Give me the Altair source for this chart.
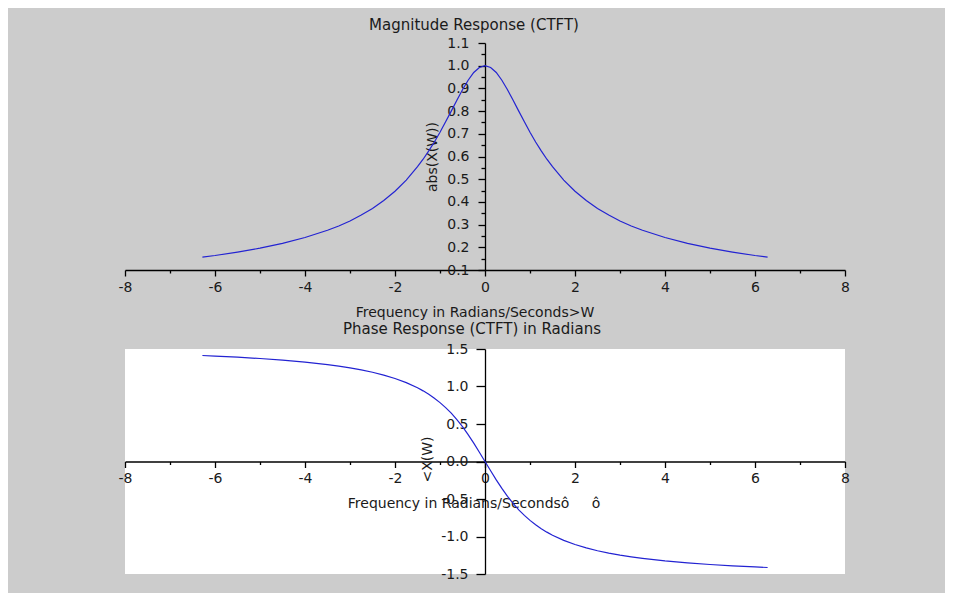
import altair as alt
import pandas as pd

# ---- data ----
W = [-6.28, -6.0, -5.5, -5.0, -4.5, -4.0, -3.5, -3.25, -3.0, -2.75, -2.5, -2.25,
     -2.0, -1.75, -1.5, -1.375, -1.25, -1.125, -1.0, -0.875, -0.75, -0.625,
     -0.5, -0.375, -0.25, -0.125, 0.0, 0.125, 0.25, 0.375, 0.5, 0.625, 0.75,
     0.875, 1.0, 1.125, 1.25, 1.375, 1.5, 1.75, 2.0, 2.25, 2.5, 2.75, 3.0,
     3.25, 3.5, 4.0, 4.5, 5.0, 5.5, 6.0, 6.28]
MAG = [0.157, 0.164, 0.179, 0.196, 0.217, 0.243, 0.275, 0.294, 0.316, 0.342,
       0.371, 0.406, 0.447, 0.496, 0.555, 0.588, 0.625, 0.664, 0.707, 0.753,
       0.800, 0.848, 0.894, 0.936, 0.970, 0.992, 1.000, 0.992, 0.970, 0.936,
       0.894, 0.848, 0.800, 0.753, 0.707, 0.664, 0.625, 0.588, 0.555, 0.496,
       0.447, 0.406, 0.371, 0.342, 0.316, 0.294, 0.275, 0.243, 0.217, 0.196,
       0.179, 0.164, 0.157]
PHASE = [1.413, 1.406, 1.391, 1.373, 1.352, 1.326, 1.292, 1.272, 1.249, 1.222,
         1.190, 1.152, 1.107, 1.052, 0.983, 0.942, 0.896, 0.844, 0.785, 0.719,
         0.644, 0.559, 0.464, 0.359, 0.245, 0.124, 0.000, -0.124, -0.245,
         -0.359, -0.464, -0.559, -0.644, -0.719, -0.785, -0.844, -0.896,
         -0.942, -0.983, -1.052, -1.107, -1.152, -1.190, -1.222, -1.249,
         -1.272, -1.292, -1.326, -1.352, -1.373, -1.391, -1.406, -1.413]

X_TICKS = [-8, -7, -6, -5, -4, -3, -2, -1, 0, 1, 2, 3, 4, 5, 6, 7, 8]
Y1_TICKS = [0.1, 0.15, 0.2, 0.25, 0.3, 0.35, 0.4, 0.45, 0.5, 0.55, 0.6, 0.65,
            0.7, 0.75, 0.8, 0.85, 0.9, 0.95, 1.0, 1.05, 1.1]
Y2_TICKS = [-1.5, -1.0, -0.5, 0.0, 0.5, 1.0, 1.5]

TITLE_TOP = "Magnitude Response (CTFT)"
TITLE_BOTTOM = "Phase Response (CTFT) in Radians"
XTITLE_TOP = "Frequency in Radians/Seconds>W"
XTITLE_BOTTOM = "Frequency in Radians/Secondsô\u00a0\u00a0\u00a0\u00a0\u00a0ô"
YTITLE_TOP = "abs(X(W))"
YTITLE_BOTTOM = "<X(W)"

df = pd.DataFrame({"w": W, "mag": MAG, "phase": PHASE})

FONT = "DejaVu Sans"
TXT = "#1a1a1a"
LINE = "#2323d2"
BG = "#cccccc"

common = dict(
    grid=False, domainColor="black", domainWidth=1.3, tickColor="black",
    tickWidth=1.3, labelColor=TXT, labelFont=FONT, labelFontSize=14,
    titleColor=TXT, titleFont=FONT, titleFontSize=14, titleFontWeight="normal",
    labelFlush=False, labelOverlap=False, labelBound=False,
)

x_minor = {"condition": {"test": "datum.value % 2 !== 0", "value": [3, 30]}, "value": []}
x_label = ("datum.value % 2 !== 0 ? '' : "
           "(datum.value < 0 ? '-' + format(abs(datum.value), 'd') : format(datum.value, 'd'))")

ax_x_top = alt.Axis(
    values=X_TICKS, labelExpr=x_label, tickDash=x_minor, tickSize=6, labelPadding=4,
    title=XTITLE_TOP, titleX=349.5, titleY=42, titleAlign="center",
    titleBaseline="middle", **common)
ax_x_bot = alt.Axis(
    values=X_TICKS, labelExpr=x_label, tickDash=x_minor, tickSize=6, labelPadding=4,
    offset=-112.5,
    title=XTITLE_BOTTOM, titleX=348.5, titleY=42, titleAlign="center",
    titleBaseline="middle", **common)

ax_y_top = alt.Axis(
    values=Y1_TICKS, offset=-360, tickSize=7, labelPadding=9,
    labelExpr="round(datum.value * 100) % 10 === 0 ? format(datum.value, '.1f') : ''",
    tickDash={"condition": {"test": "round(datum.value * 100) % 10 !== 0",
                            "value": [4, 30]}, "value": []},
    title=YTITLE_TOP, titleX=-53, titleY=113.5, titleAngle=270,
    titleAlign="center", titleBaseline="middle", **common)
ax_y_bot = alt.Axis(
    values=Y2_TICKS, offset=-360, tickSize=9, labelPadding=8,
    labelExpr="datum.value < 0 ? '-' + format(abs(datum.value), '.1f') : format(datum.value, '.1f')",
    title=YTITLE_BOTTOM, titleX=-58, titleY=110, titleAngle=270,
    titleAlign="center", titleBaseline="middle", **common)

xs = alt.Scale(domain=[-8, 8], nice=False, zero=False)

top = alt.Chart(df).mark_line(color=LINE, strokeWidth=1.2).encode(
    x=alt.X("w:Q", scale=xs, axis=ax_x_top),
    y=alt.Y("mag:Q", scale=alt.Scale(domain=[0.1, 1.1], nice=False, zero=False),
            axis=ax_y_top),
).properties(
    width=720, height=227,
    title=alt.TitleParams(TITLE_TOP, anchor="middle", frame="group", dx=-11,
                          offset=3, font=FONT, fontSize=15, fontWeight="normal",
                          color=TXT),
)

bottom = alt.Chart(df).mark_line(color=LINE, strokeWidth=1.2).encode(
    x=alt.X("w:Q", scale=xs, axis=ax_x_bot),
    y=alt.Y("phase:Q", scale=alt.Scale(domain=[-1.5, 1.5], nice=False, zero=False),
            axis=ax_y_bot),
).properties(
    width=720, height=225,
    view=alt.ViewBackground(fill="white", stroke=None),
    title=alt.TitleParams(TITLE_BOTTOM, anchor="middle", frame="group", dx=-13,
                          offset=5, font=FONT, fontSize=15, fontWeight="normal",
                          color=TXT),
)

chart = alt.vconcat(top, bottom, spacing=79, bounds="flush").properties(
    background=BG,
    padding={"left": 110, "top": 10, "right": 95, "bottom": 12},
).configure_view(stroke=None).resolve_scale(y="independent")

chart.save("out.html", embed_options={"renderer": "svg", "actions": False})
